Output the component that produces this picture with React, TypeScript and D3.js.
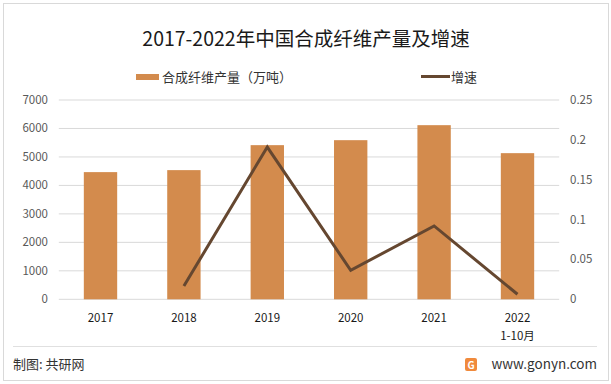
import React from "react";
import * as d3 from "d3";

const categories = ["2017", "2018", "2019", "2020", "2021", "2022"];
const categorySub = ["", "", "", "", "", "1-10月"];
const output = [4467, 4537, 5414, 5589, 6116, 5133];
const growth: (number | null)[] = [null, 0.0167, 0.191, 0.0364, 0.092, 0.0063];
const leftTicks = [0, 1000, 2000, 3000, 4000, 5000, 6000, 7000];
const rightTicks = [0, 0.05, 0.1, 0.15, 0.2, 0.25];

const W = 611;
const H = 384;
const plotLeft = 58.8;
const plotRight = 559.2;
const plotTop = 100;
const plotBottom = 299.3;
const barColor = "#D38B4D";
const lineColor = "#654730";
const font = "'Noto Sans CJK SC', 'Noto Sans', sans-serif";

export default function App() {
  const x = d3.scaleBand<string>().domain(categories).range([plotLeft, plotRight]).paddingInner(0.6).paddingOuter(0.3);
  const yL = d3.scaleLinear().domain([0, 7000]).range([plotBottom, plotTop]);
  const yR = d3.scaleLinear().domain([0, 0.25]).range([plotBottom, plotTop]);
  const pts = categories
    .map((c, i) => ({ c, v: growth[i] }))
    .filter((d) => d.v !== null) as { c: string; v: number }[];
  const line = d3
    .line<{ c: string; v: number }>()
    .x((d) => (x(d.c) as number) + x.bandwidth() / 2)
    .y((d) => yR(d.v));

  return (
    <div style={{ position: "fixed", left: 0, top: 0 }}>
      <svg width={W} height={H} style={{ display: "block", background: "#fff" }} fontFamily={font}>
        <rect x={3.5} y={3.5} width={605} height={377} fill="#fff" stroke="#D9D9D9" />
        <text x={306} y={46} textAnchor="middle" fontSize={19.5} fill="#1a1a1a">
          2017-2022年中国合成纤维产量及增速
        </text>
        {/* legend */}
        <rect x={136} y={74} width={23} height={6} fill={barColor} />
        <text x={162} y={82} fontSize={13} fill="#333">合成纤维产量（万吨）</text>
        <line x1={421} x2={450} y1={76.5} y2={76.5} stroke={lineColor} strokeWidth={3} />
        <text x={451} y={82} fontSize={13} fill="#333">增速</text>
        {/* grid */}
        {leftTicks.map((t) => (
          <line key={t} x1={plotLeft} x2={plotRight} y1={yL(t)} y2={yL(t)} stroke="#D9D9D9" strokeWidth={1} />
        ))}
        {leftTicks.map((t) => (
          <text key={"l" + t} x={48} y={yL(t) + 4} textAnchor="end" fontSize={11.5} fill="#595959">
            {t}
          </text>
        ))}
        {rightTicks.map((t) => (
          <text key={"r" + t} x={570} y={yR(t) + 4} textAnchor="start" fontSize={11.5} fill="#595959">
            {String(t)}
          </text>
        ))}
        {/* bars */}
        {categories.map((c, i) => (
          <rect
            key={c}
            x={x(c)}
            y={yL(output[i])}
            width={x.bandwidth()}
            height={plotBottom - yL(output[i])}
            fill={barColor}
          />
        ))}
        <path d={line(pts) || ""} fill="none" stroke={lineColor} strokeWidth={3} strokeLinejoin="miter" />
        {/* x labels */}
        {categories.map((c, i) => (
          <g key={"x" + c}>
            <text x={(x(c) as number) + x.bandwidth() / 2} y={322} textAnchor="middle" fontSize={11.5} fill="#1a1a1a">
              {c}
            </text>
            {categorySub[i] && (
              <text x={(x(c) as number) + x.bandwidth() / 2} y={340} textAnchor="middle" fontSize={11.5} fill="#1a1a1a">
                {categorySub[i]}
              </text>
            )}
          </g>
        ))}
        {/* footer */}
        <line x1={13} x2={597} y1={346.5} y2={346.5} stroke="#E0E0E0" />
        <text x={13} y={369} fontSize={13} fill="#333">制图: 共研网</text>
        <rect x={465} y={358} width={12} height={13} rx={2} fill="#F08A3C" />
        <text x={471} y={369} textAnchor="middle" fontSize={10} fontWeight="bold" fill="#fff">G</text>
        <text x={597} y={369} textAnchor="end" fontSize={13.5} fill="#333">www.gonyn.com</text>
      </svg>
    </div>
  );
}
